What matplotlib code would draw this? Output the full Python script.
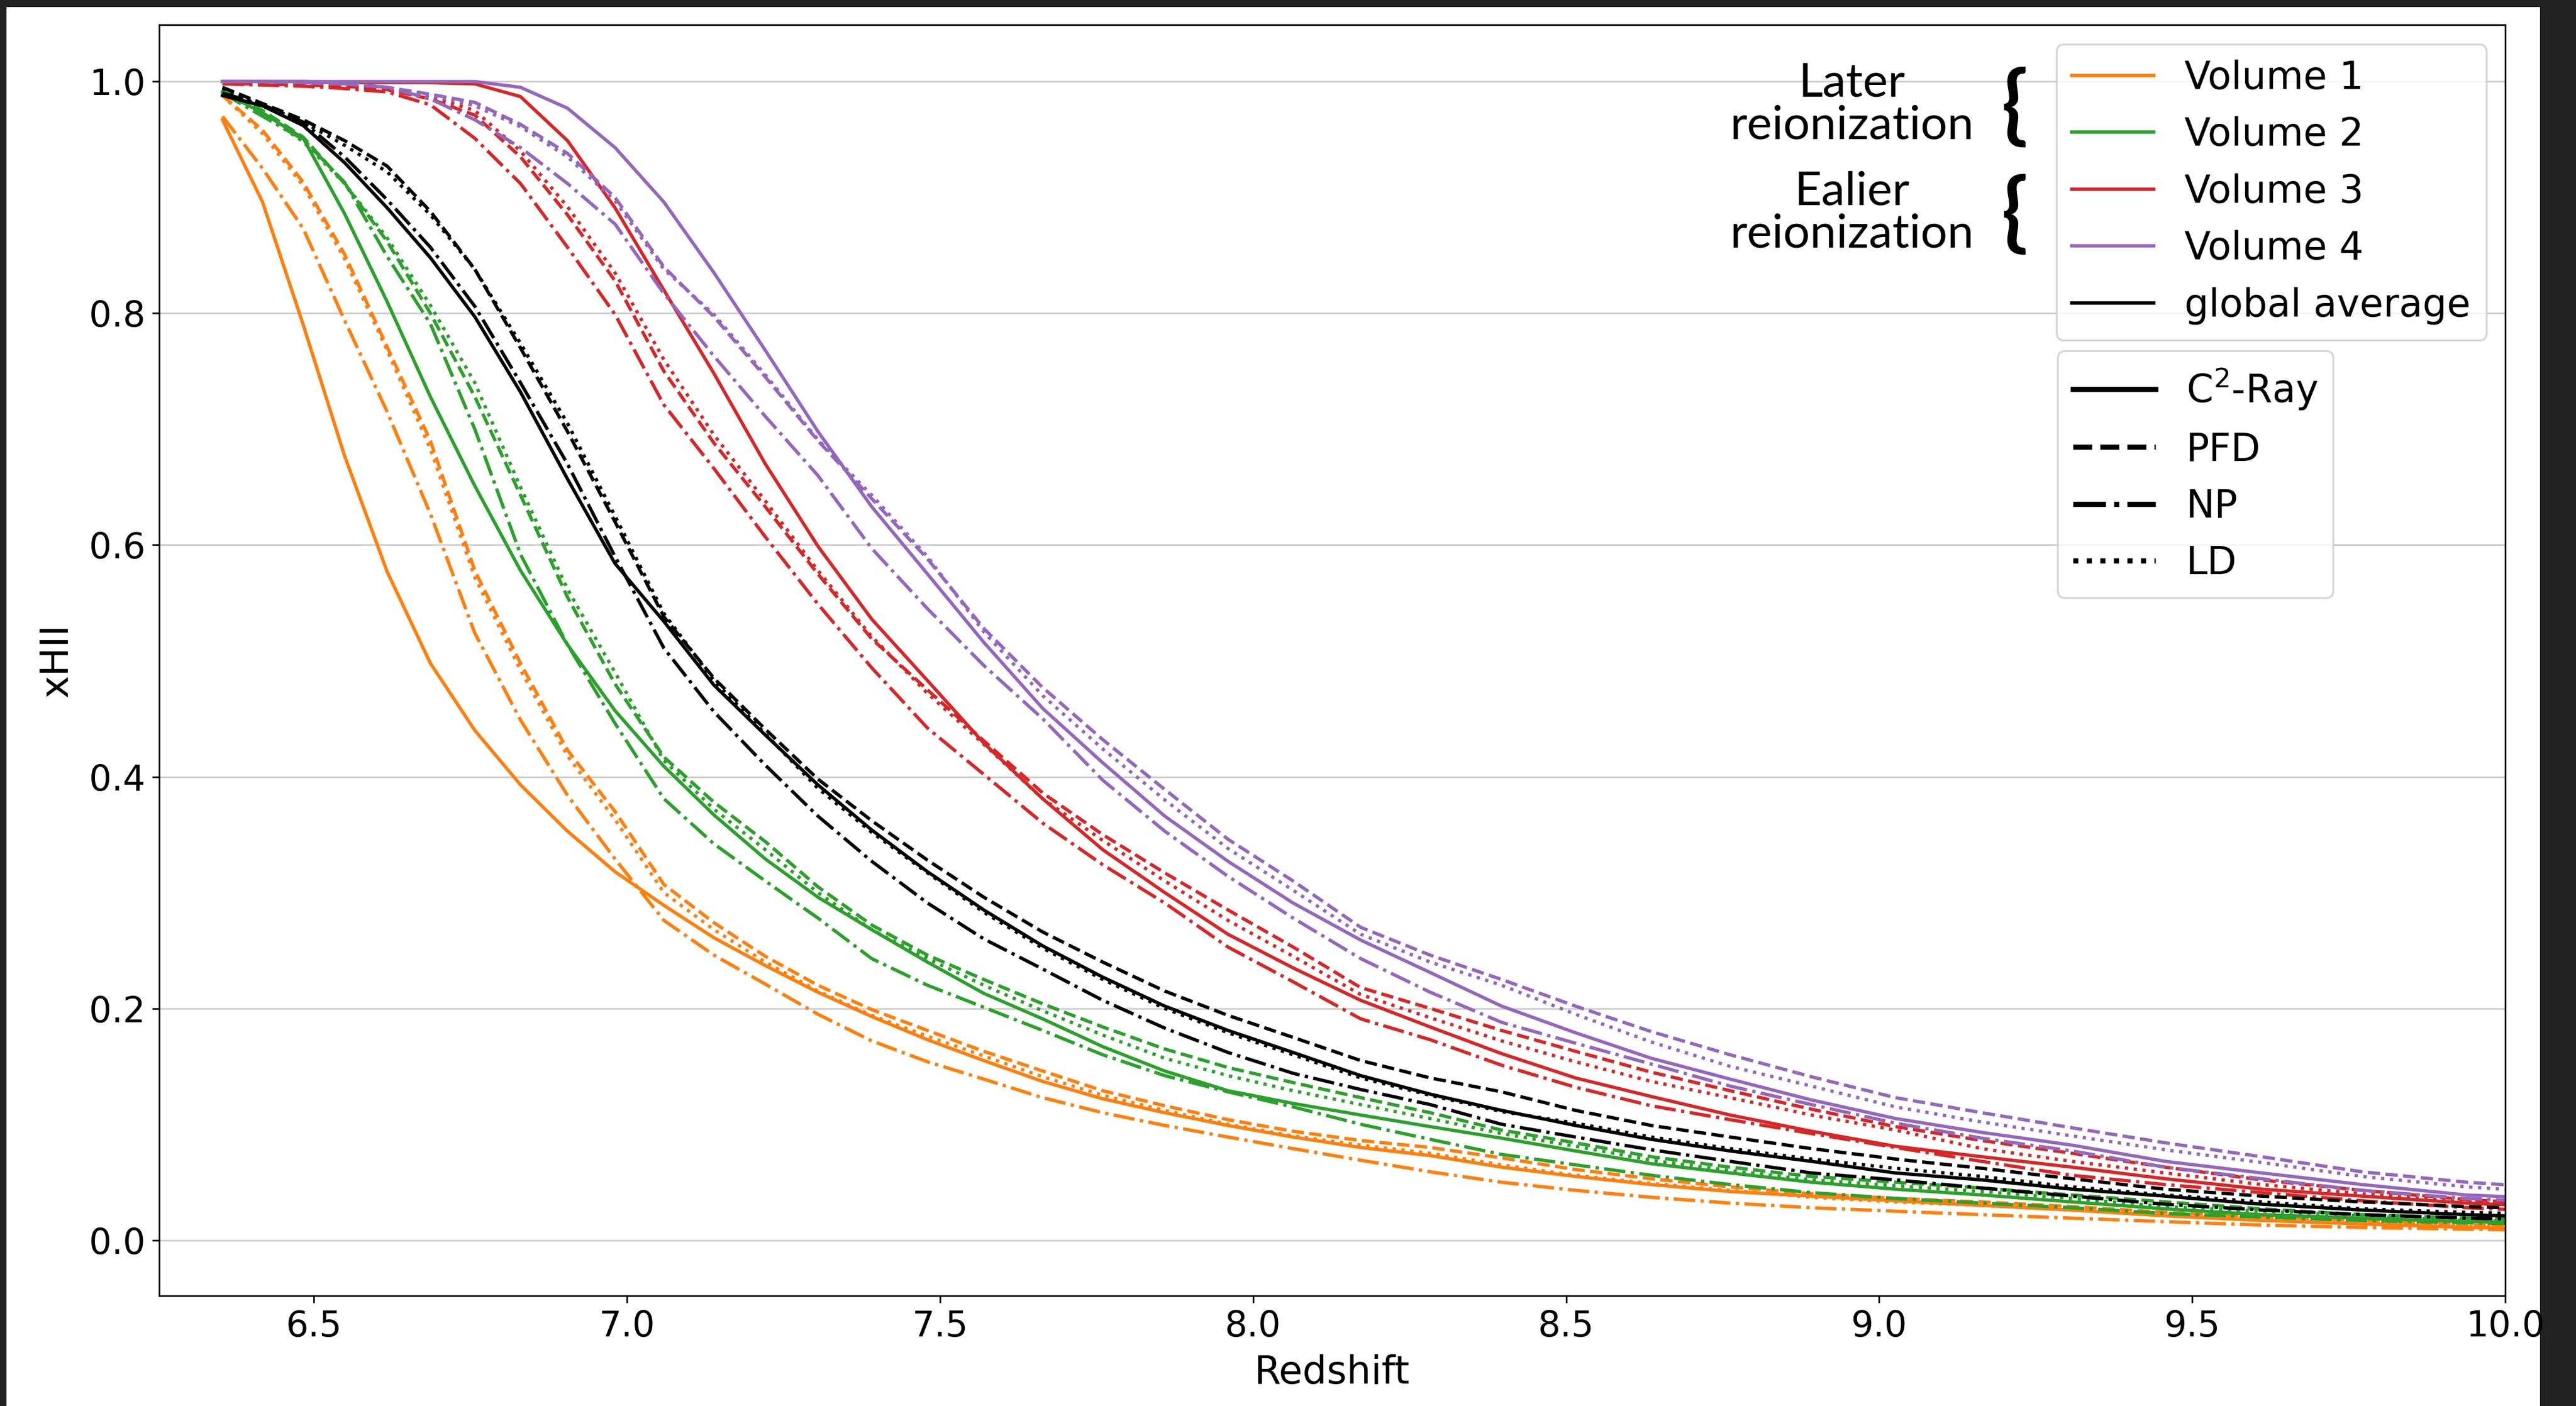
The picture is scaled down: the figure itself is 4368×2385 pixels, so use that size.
import matplotlib
matplotlib.use("Agg")
import matplotlib.pyplot as plt
from matplotlib.lines import Line2D
from matplotlib.patches import Rectangle

# C2-Ray output redshifts
redshift = [6.354, 6.418, 6.483, 6.549, 6.617, 6.686, 6.757, 6.830, 6.905, 6.981,
            7.059, 7.139, 7.221, 7.305, 7.391, 7.480, 7.570, 7.664, 7.760, 7.859,
            7.960, 8.064, 8.172, 8.283, 8.397, 8.515, 8.636, 8.762, 8.892, 9.026,
            9.164, 9.308, 9.457, 9.611, 9.771, 9.938, 10.110]

# ionized fraction per sub-volume and method
v1_c2ray = [0.967, 0.896, 0.790, 0.677, 0.577, 0.498, 0.440, 0.393, 0.353, 0.318,
            0.289, 0.261, 0.237, 0.214, 0.193, 0.173, 0.155, 0.137, 0.122, 0.110,
            0.099, 0.089, 0.080, 0.073, 0.063, 0.055, 0.048, 0.042, 0.038, 0.034,
            0.030, 0.026, 0.021, 0.017, 0.014, 0.011, 0.009]
v1_pfd = [0.988, 0.958, 0.913, 0.851, 0.771, 0.690, 0.578, 0.498, 0.423, 0.370,
          0.307, 0.274, 0.245, 0.220, 0.199, 0.181, 0.163, 0.146, 0.129, 0.116,
          0.104, 0.094, 0.086, 0.080, 0.071, 0.061, 0.053, 0.046, 0.040, 0.036,
          0.033, 0.029, 0.024, 0.020, 0.017, 0.013, 0.011]
v1_np = [0.970, 0.925, 0.873, 0.794, 0.715, 0.627, 0.524, 0.449, 0.384, 0.329,
         0.276, 0.246, 0.221, 0.195, 0.172, 0.154, 0.139, 0.123, 0.110, 0.099,
         0.089, 0.079, 0.069, 0.059, 0.050, 0.043, 0.037, 0.032, 0.028, 0.025,
         0.022, 0.019, 0.016, 0.013, 0.011, 0.0095, 0.008]
v1_ld = [0.988, 0.955, 0.910, 0.847, 0.768, 0.683, 0.572, 0.492, 0.418, 0.363,
         0.300, 0.268, 0.240, 0.215, 0.194, 0.176, 0.159, 0.141, 0.125, 0.112,
         0.100, 0.090, 0.082, 0.075, 0.065, 0.056, 0.049, 0.043, 0.037, 0.033,
         0.030, 0.026, 0.022, 0.018, 0.015, 0.012, 0.010]

v2_c2ray = [0.991, 0.973, 0.951, 0.886, 0.810, 0.728, 0.651, 0.578, 0.514, 0.457,
            0.409, 0.367, 0.329, 0.296, 0.268, 0.240, 0.213, 0.191, 0.167, 0.146,
            0.129, 0.118, 0.108, 0.098, 0.088, 0.077, 0.066, 0.058, 0.050, 0.044,
            0.039, 0.033, 0.027, 0.022, 0.019, 0.016, 0.014]
v2_pfd = [0.993, 0.975, 0.952, 0.912, 0.862, 0.800, 0.728, 0.643, 0.555, 0.480,
          0.417, 0.378, 0.344, 0.305, 0.272, 0.246, 0.225, 0.204, 0.184, 0.165,
          0.149, 0.136, 0.123, 0.110, 0.095, 0.084, 0.072, 0.063, 0.055, 0.050,
          0.045, 0.039, 0.033, 0.027, 0.022, 0.019, 0.017]
v2_np = [0.990, 0.970, 0.950, 0.913, 0.849, 0.791, 0.700, 0.592, 0.514, 0.446,
         0.381, 0.342, 0.310, 0.278, 0.243, 0.220, 0.201, 0.181, 0.160, 0.142,
         0.128, 0.115, 0.100, 0.087, 0.074, 0.065, 0.056, 0.048, 0.041, 0.036,
         0.032, 0.028, 0.023, 0.020, 0.017, 0.015, 0.013]
v2_ld = [0.990, 0.972, 0.948, 0.912, 0.865, 0.807, 0.740, 0.650, 0.562, 0.490,
         0.414, 0.372, 0.337, 0.300, 0.268, 0.243, 0.220, 0.198, 0.177, 0.157,
         0.142, 0.129, 0.117, 0.105, 0.092, 0.081, 0.069, 0.060, 0.052, 0.047,
         0.042, 0.036, 0.029, 0.025, 0.021, 0.017, 0.015]

v3_c2ray = [1.000, 1.000, 1.000, 0.999, 0.999, 0.999, 0.998, 0.987, 0.949, 0.891,
            0.820, 0.748, 0.670, 0.599, 0.536, 0.483, 0.429, 0.381, 0.337, 0.300,
            0.264, 0.235, 0.207, 0.184, 0.161, 0.140, 0.124, 0.108, 0.094, 0.081,
            0.072, 0.063, 0.053, 0.044, 0.038, 0.032, 0.028]
v3_pfd = [0.998, 0.998, 0.997, 0.996, 0.993, 0.985, 0.971, 0.935, 0.885, 0.828,
          0.750, 0.688, 0.633, 0.575, 0.519, 0.475, 0.431, 0.386, 0.350, 0.317,
          0.285, 0.253, 0.218, 0.200, 0.181, 0.163, 0.145, 0.129, 0.113, 0.098,
          0.086, 0.075, 0.063, 0.052, 0.043, 0.035, 0.030]
v3_np = [0.998, 0.997, 0.996, 0.994, 0.991, 0.980, 0.951, 0.912, 0.857, 0.799,
         0.721, 0.666, 0.607, 0.549, 0.494, 0.442, 0.402, 0.360, 0.324, 0.291,
         0.253, 0.223, 0.191, 0.173, 0.151, 0.132, 0.116, 0.104, 0.092, 0.080,
         0.068, 0.056, 0.048, 0.041, 0.034, 0.028, 0.024]
v3_ld = [0.999, 0.998, 0.997, 0.996, 0.993, 0.987, 0.975, 0.940, 0.892, 0.835,
         0.760, 0.695, 0.638, 0.578, 0.521, 0.472, 0.428, 0.381, 0.345, 0.310,
         0.276, 0.245, 0.212, 0.192, 0.172, 0.154, 0.137, 0.123, 0.108, 0.095,
         0.079, 0.068, 0.058, 0.048, 0.040, 0.033, 0.028]

v4_c2ray = [1.000, 1.000, 1.000, 1.000, 1.000, 1.000, 1.000, 0.995, 0.977, 0.943,
            0.896, 0.835, 0.768, 0.698, 0.633, 0.575, 0.516, 0.459, 0.412, 0.366,
            0.327, 0.291, 0.259, 0.231, 0.202, 0.179, 0.157, 0.139, 0.121, 0.105,
            0.093, 0.082, 0.068, 0.058, 0.048, 0.039, 0.035]
v4_pfd = [1.000, 1.000, 0.999, 0.998, 0.995, 0.989, 0.982, 0.963, 0.938, 0.900,
          0.840, 0.797, 0.745, 0.690, 0.640, 0.588, 0.528, 0.477, 0.432, 0.389,
          0.346, 0.310, 0.270, 0.246, 0.225, 0.202, 0.180, 0.160, 0.141, 0.123,
          0.110, 0.097, 0.084, 0.072, 0.059, 0.050, 0.044]
v4_np = [1.000, 1.000, 0.999, 0.998, 0.995, 0.985, 0.967, 0.943, 0.912, 0.877,
         0.817, 0.763, 0.711, 0.660, 0.597, 0.545, 0.496, 0.450, 0.397, 0.353,
         0.314, 0.278, 0.243, 0.214, 0.188, 0.170, 0.152, 0.133, 0.117, 0.101,
         0.088, 0.077, 0.063, 0.053, 0.043, 0.036, 0.032]
v4_ld = [1.000, 1.000, 0.999, 0.998, 0.995, 0.988, 0.979, 0.961, 0.935, 0.897,
         0.838, 0.799, 0.747, 0.691, 0.643, 0.590, 0.525, 0.470, 0.424, 0.380,
         0.338, 0.302, 0.264, 0.240, 0.220, 0.195, 0.171, 0.150, 0.133, 0.115,
         0.102, 0.090, 0.078, 0.067, 0.055, 0.046, 0.040]

avg_c2ray = [0.988, 0.979, 0.962, 0.930, 0.891, 0.848, 0.797, 0.732, 0.657, 0.584,
             0.534, 0.479, 0.436, 0.393, 0.354, 0.318, 0.285, 0.254, 0.227, 0.202,
             0.181, 0.162, 0.142, 0.126, 0.112, 0.099, 0.087, 0.077, 0.068, 0.058,
             0.052, 0.044, 0.038, 0.031, 0.026, 0.022, 0.019]
avg_pfd = [0.995, 0.981, 0.967, 0.949, 0.927, 0.888, 0.838, 0.770, 0.698, 0.620,
           0.538, 0.485, 0.441, 0.398, 0.362, 0.328, 0.296, 0.266, 0.240, 0.215,
           0.194, 0.175, 0.155, 0.140, 0.128, 0.112, 0.099, 0.089, 0.079, 0.070,
           0.062, 0.053, 0.044, 0.038, 0.033, 0.029, 0.026]
avg_np = [0.990, 0.980, 0.965, 0.935, 0.898, 0.857, 0.806, 0.740, 0.670, 0.590,
          0.511, 0.456, 0.410, 0.366, 0.327, 0.291, 0.260, 0.234, 0.207, 0.183,
          0.162, 0.144, 0.130, 0.117, 0.100, 0.089, 0.078, 0.068, 0.058, 0.052,
          0.045, 0.038, 0.031, 0.026, 0.022, 0.019, 0.017]
avg_ld = [0.994, 0.980, 0.965, 0.945, 0.922, 0.885, 0.838, 0.774, 0.705, 0.625,
          0.541, 0.483, 0.437, 0.390, 0.352, 0.317, 0.283, 0.252, 0.225, 0.200,
          0.179, 0.160, 0.140, 0.125, 0.111, 0.101, 0.089, 0.079, 0.070, 0.062,
          0.055, 0.046, 0.039, 0.033, 0.027, 0.024, 0.022]

volume_labels = ["Volume 1", "Volume 2", "Volume 3", "Volume 4", "global average"]
volume_colors = ["tab:orange", "tab:green", "tab:red", "tab:purple", "black"]
method_labels = ["C$^2$-Ray", "PFD", "NP", "LD"]
method_styles = ["-", "--", "-.", ":"]

series = [
    [v1_c2ray, v1_pfd, v1_np, v1_ld],
    [v2_c2ray, v2_pfd, v2_np, v2_ld],
    [v3_c2ray, v3_pfd, v3_np, v3_ld],
    [v4_c2ray, v4_pfd, v4_np, v4_ld],
    [avg_c2ray, avg_pfd, avg_np, avg_ld],
]

plt.rcParams["font.size"] = 18

W, H, DPI = 4368, 2385, 240
fig = plt.figure(figsize=(W / DPI, H / DPI), dpi=DPI, facecolor="#222222")
# white page inside the dark frame, kept behind the axes
fig.patches.append(Rectangle((11 / W, 0), (4307 - 11) / W, (H - 12) / H,
                             transform=fig.transFigure, facecolor="white",
                             edgecolor="none", zorder=-5))

ax = fig.add_axes([270 / W, 1 - 2198 / H, (4248 - 270) / W, (2198 - 42) / H])

for vals, color in zip(series, volume_colors):
    for y, ls in zip(vals, method_styles):
        ax.plot(redshift, y, color=color, linestyle=ls, linewidth=1.7)

ax.set_xlim(6.253, 10.0)
ax.set_ylim(-0.048, 1.049)
ax.set_xlabel("Redshift", fontsize=19.5, labelpad=5)
ax.set_ylabel("xHII", fontsize=19.5, labelpad=7)
ax.yaxis.grid(True, color="#cccccc", linewidth=0.8)
ax.set_axisbelow(True)

vol_handles = [Line2D([], [], color=c, lw=1.7) for c in volume_colors]
leg1 = ax.legend(vol_handles, volume_labels, loc="upper right",
                 fontsize=19.5, handlelength=2.15)
ax.add_artist(leg1)

meth_handles = [Line2D([], [], color="black", lw=2.6, linestyle=ls) for ls in method_styles]
ax.legend(meth_handles, method_labels, loc="upper left", fontsize=19.5,
          bbox_to_anchor=(0.8092, 0.7435), borderaxespad=0, handlelength=2.15)

# side notes next to the volume legend
note_kw = dict(ha="center", va="center", fontsize=24, family=["Lato", "DejaVu Sans"],
               linespacing=1.0)
fig.text(3140 / W, 1 - 178 / H, "Later\nreionization", **note_kw)
fig.text(3140 / W, 1 - 362 / H, "Ealier\nreionization", **note_kw)
brace_kw = dict(ha="center", va="center", fontsize=44, family=["Lato", "DejaVu Sans"],
                fontweight="bold")
fig.text(3416 / W, 1 - 184 / H, "{", **brace_kw)
fig.text(3416 / W, 1 - 365 / H, "{", **brace_kw)

fig.savefig("out.png", dpi=DPI, facecolor=fig.get_facecolor())
